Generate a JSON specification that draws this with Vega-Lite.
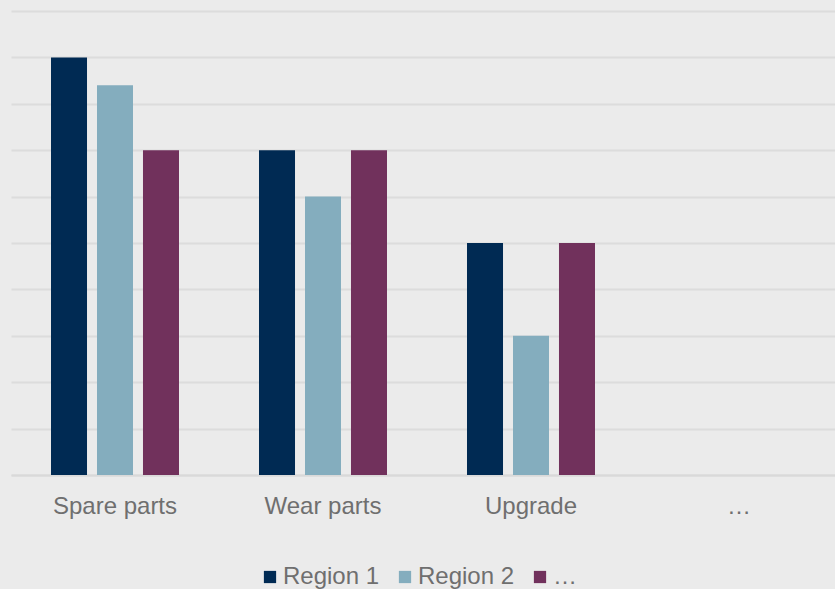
{
  "$schema": "https://vega.github.io/schema/vega-lite/v6.json",
  "width": 832,
  "height": 464,
  "autosize": "none",
  "padding": {"left": 11, "top": 11, "right": 0, "bottom": 114},
  "background": "#ebebeb",
  "config": {
    "view": {"stroke": null},
    "font": "Liberation Sans"
  },
  "data": {
    "values": [
      {"category": "Spare parts", "series": "Region 1", "value": 9},
      {"category": "Spare parts", "series": "Region 2", "value": 8.4},
      {"category": "Spare parts", "series": "…", "value": 7},
      {"category": "Wear parts", "series": "Region 1", "value": 7},
      {"category": "Wear parts", "series": "Region 2", "value": 6},
      {"category": "Wear parts", "series": "…", "value": 7},
      {"category": "Upgrade", "series": "Region 1", "value": 5},
      {"category": "Upgrade", "series": "Region 2", "value": 3},
      {"category": "Upgrade", "series": "…", "value": 5}
    ]
  },
  "mark": {"type": "bar"},
  "encoding": {
    "x": {
      "field": "category",
      "type": "nominal",
      "sort": null,
      "scale": {"domain": ["Spare parts", "Wear parts", "Upgrade", "…"], "paddingInner": 0.3846, "paddingOuter": 0.1923},
      "axis": {
        "title": null,
        "labelAngle": 0,
        "labelFont": "Liberation Sans",
        "labelFontSize": 24,
        "labelColor": "#6f6f6f",
        "labelPadding": 19,
        "ticks": false,
        "domain": true,
        "domainColor": "#d9d9d9",
        "domainWidth": 2
      }
    },
    "xOffset": {
      "field": "series",
      "type": "nominal",
      "sort": ["Region 1", "Region 2", "…"],
      "scale": {"paddingInner": 0.217, "paddingOuter": 0}
    },
    "y": {
      "field": "value",
      "type": "quantitative",
      "scale": {"domain": [0, 10], "nice": false},
      "axis": {
        "title": null,
        "labels": false,
        "ticks": false,
        "domain": false,
        "tickCount": 10,
        "gridColor": "#dcdcdc",
        "gridWidth": 2
      }
    },
    "color": {
      "field": "series",
      "type": "nominal",
      "sort": ["Region 1", "Region 2", "…"],
      "scale": {"domain": ["Region 1", "Region 2", "…"], "range": ["#002a53", "#84adbe", "#71315c"]},
      "legend": {
        "title": null,
        "orient": "none",
        "direction": "horizontal",
        "legendX": 247,
        "legendY": 554,
        "symbolType": "square",
        "symbolSize": 150,
        "symbolStrokeWidth": 0,
        "symbolOpacity": 1,
        "labelFont": "Liberation Sans",
        "labelFontSize": 24,
        "labelColor": "#6f6f6f",
        "labelOffset": 1,
        "columnPadding": 13,
        "padding": 0
      }
    }
  }
}
